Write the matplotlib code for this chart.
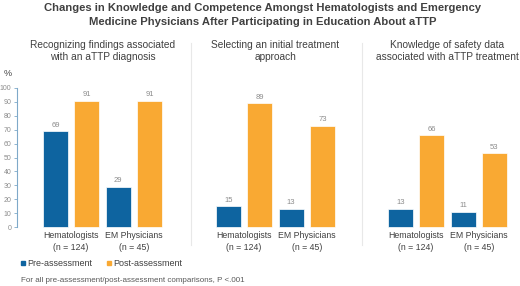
import matplotlib
matplotlib.use("Agg")
import matplotlib.pyplot as plt
import matplotlib.transforms as mtransforms
from matplotlib.patches import Rectangle
from matplotlib.lines import Line2D

plt.rcParams['font.family'] = ['Liberation Sans', 'DejaVu Sans']

W, H = 520, 286

title = "Changes in Knowledge and Competence Amongst Hematologists and Emergency\nMedicine Physicians After Participating in Education About aTTP"
panel_titles = ["Recognizing findings associated\nwith an aTTP diagnosis",
                "Selecting an initial treatment\napproach",
                "Knowledge of safety data\nassociated with aTTP treatment"]
groups = ["Hematologists\n(n = 124)", "EM Physicians\n(n = 45)"]
series = ["Pre-assessment", "Post-assessment"]
pre_values = [[69, 29], [15, 13], [13, 11]]
post_values = [[91, 91], [89, 73], [66, 53]]
yticks = [0, 10, 20, 30, 40, 50, 60, 70, 80, 90, 100]
footnote = "For all pre-assessment/post-assessment comparisons, P <.001"

BLUE = '#0e64a0'
ORANGE = '#f9a933'
TXT = '#404040'
GRAY = '#8c8c8c'

fig = plt.figure(figsize=(W / 100, H / 100), dpi=100)

def fx(px):
    return px / W

def fy(py):
    return 1 - py / H

pitch = 31.3
panels = [(17, 190, 55.5), (191, 362, 228.5), (362, 520, 400.5)]
base_y, top_y = 227, 88

for i, (l, r, c0) in enumerate(panels):
    ax = fig.add_axes([fx(l), fy(base_y), fx(r - l), (base_y - top_y) / H])
    left = -(c0 - l) / pitch
    ax.set_xlim(left, left + (r - l) / pitch)
    ax.set_ylim(0, 100)
    ax.patch.set_alpha(0)
    xs_pre = [0, 2]
    xs_post = [1, 3]
    for xs, vals, col in [(xs_pre, pre_values[i], BLUE), (xs_post, post_values[i], ORANGE)]:
        ax.bar(xs, vals, width=0.8, color=col, edgecolor='white', linewidth=0.5, clip_on=False)
        for x, v in zip(xs, vals):
            ax.annotate(str(v), (x, v), xytext=(0, 1.8), textcoords='offset points',
                        ha='center', va='bottom', fontsize=5.5, color=GRAY)
    for s in ['top', 'right', 'bottom']:
        ax.spines[s].set_visible(False)
    ax.set_xticks([0.5, 2.5])
    ax.set_xticklabels(groups, fontsize=6.3, color=TXT, linespacing=1.4)
    ax.tick_params(axis='x', length=0, pad=3.2)
    if i == 0:
        ax.spines['left'].set_color('#7fa9c9')
        ax.spines['left'].set_linewidth(0.8)
        ax.set_yticks(yticks)
        ax.tick_params(axis='y', labelsize=5, labelcolor=GRAY, color='#7fa9c9',
                       length=2, width=0.6, pad=2)
    else:
        ax.spines['left'].set_visible(False)
        ax.set_yticks([])
    tr = mtransforms.blended_transform_factory(ax.transData, fig.transFigure)
    ax.text(1.5, fy(51), panel_titles[i], transform=tr, fontsize=7.3, color=TXT,
            ha='center', va='center', linespacing=1.25)

for px in [191, 362]:
    fig.add_artist(Line2D([fx(px), fx(px)], [fy(43), fy(245)], color='#e8e8e8', lw=0.8))

fig.text(fx(263), fy(15), title, ha='center', va='center', fontsize=8.1,
         fontweight='bold', color=TXT, linespacing=1.55)
fig.text(fx(3.5), fy(73), '%', ha='left', va='center', fontsize=6.5, color=TXT)

for (mx, tx), lab, col in zip([(21, 27), (107, 113)], series, [BLUE, ORANGE]):
    fig.add_artist(Rectangle((fx(mx), fy(265)), fx(4), 4 / H, color=col))
    fig.text(fx(tx), fy(263), lab, ha='left', va='center', fontsize=6.5, color=TXT)

fig.text(fx(21), fy(280.5), footnote, ha='left', va='center', fontsize=5.8, color='#595959')

fig.savefig('out.png', dpi=100)
